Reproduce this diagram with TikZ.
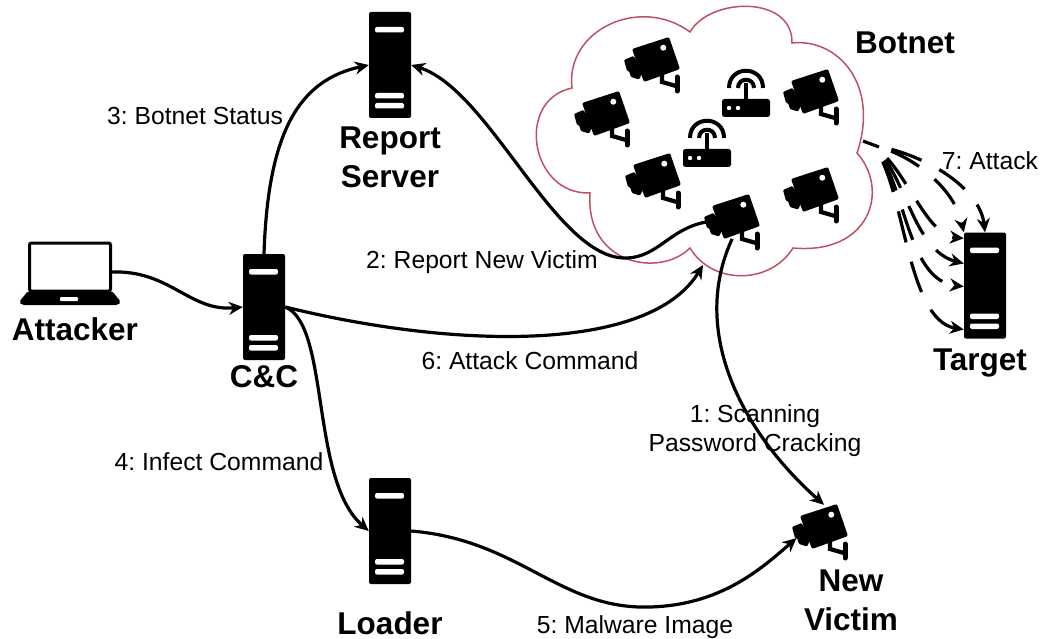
\documentclass[tikz,border=0pt]{standalone}
\usepackage{fontspec}
\setmainfont{Liberation Sans}
\usetikzlibrary{arrows.meta}
\frenchspacing
\tikzset{
	link/.style={line width=3.2pt,-{Stealth[length=14pt,width=13pt]}},
	attack/.style={link,dash pattern=on 32pt off 20pt,dash phase=32pt},
	tag/.style={inner sep=0,font=\fontsize{24.7}{29}\selectfont,align=center},
	title/.style={inner sep=0,font=\bfseries\fontsize{31.5}{39}\selectfont,align=center},
	serverbox/.style={fill=black,rounded corners=2pt,inner sep=0,minimum width=42pt,minimum height=106pt,
		path picture={\foreach \barY in {-38,28,38} \fill[white] (path picture bounding box.center) ++(-15,\barY) rectangle ++(29,5.5);}},
	camera/.pic={
		\node[circle,inner sep=0,minimum size=44pt] (-c) at (0,0) {};
		\fill[black,rounded corners=2pt] (-24,-11) -- (13,-23) -- (24,9) -- (-12,22) -- cycle;
		\fill[black,rounded corners=1pt] (-32,0) -- (-22.7,-4) -- (-12,10) -- (-17,19.5) -- (-25,17) -- (-27,11) -- (-29,11) -- cycle;
		\fill[white] (7.3,-12.3) circle (3pt);
		\draw[line width=4.2pt] (6,14) -- (6,22) -- (20,26);
		\draw[line width=5pt,line cap=round] (21,17) -- (21,31);
	},
	router/.pic={
		\fill[black,rounded corners=2.5pt] (-24,-9) rectangle (24,9);
		\fill[white] (-17,0) circle (2.2pt) (-8,0) circle (2.2pt);
		\draw[line width=4pt] (0,-9) -- (0,-25);
		\draw[line width=4pt] (-17,-20) .. controls (-17,-43) and (17,-43) .. (17,-20);
		\draw[line width=4pt] (-8,-20) .. controls (-8,-31) and (8,-31) .. (8,-20);
	},
}
\begin{document}
\begin{tikzpicture}[x=1pt,y=-1pt]
	\useasboundingbox (0,0) rectangle (1043,639);
	\draw[color={rgb,255:red,190;green,80;blue,100},line width=1.5pt] (572,88)
		.. controls (565,30) and (640,-5) .. (690,32)
		.. controls (710,-3) and (793,-5) .. (792,43)
		.. controls (838,38) and (880,85) .. (857,153)
		.. controls (890,190) and (870,255) .. (793,248)
		.. controls (770,285) and (712,285) .. (690,248)
		.. controls (660,278) and (585,265) .. (590,193)
		.. controls (530,195) and (515,100) .. cycle;

	\node[serverbox] (report) at (390,65) {};
	\node[serverbox] (cc) at (264,307) {};
	\node[serverbox] (loader) at (390,531) {};
	\node[serverbox] (target) at (985,285.5) {};
	\node[draw,line width=3pt,rounded corners=2pt,inner sep=0,minimum width=81pt,minimum height=48pt] (attacker) at (70,267) {};
	\fill[black,rounded corners=2pt] (28,291) -- (112,291) -- (121,302) -- (118,305) -- (22,305) -- (19,302) -- cycle;
	\fill[white,rounded corners=1pt] (60,297) rectangle (78,301);

	\pic (bot1) at (656,60) {camera};
	\pic (bot2) at (606,114) {camera};
	\pic (bot3) at (657,176) {camera};
	\pic (victim) at (736,217) {camera};
	\pic (bot5) at (815,92) {camera};
	\pic (bot6) at (815,190) {camera};
	\pic (newvictim) at (824,527) {camera};
	\pic (router1) at (746,108) {router};
	\pic (router2) at (707,158) {router};

	\coordinate (burst) at (872,145);
	\coordinate (burststart) at (863,141);
	\coordinate (cmdend) at (703,265);
	\draw[link] (attacker.east) ++(0,5) .. controls (170,270) and (190,312) .. (cc.west);
	\draw[link] (cc.north) .. controls (268,130) and (300,80) .. (report.west);
	\draw[link] (victim-c.190) .. controls (670,225) and (660,258) .. (625,258) .. controls (555,258) and (490,90) .. (report.east);
	\draw[link] (cc.east) .. controls (460,350) and (650,352) .. (cmdend);
	\draw[link] (cc.east) .. controls (330,325) and (310,480) .. (loader.west);
	\draw[link] (victim-c.260) .. controls (690,330) and (740,430) .. (newvictim-c.north);
	\draw[link,shorten >=8pt] (loader.east) .. controls (520,540) and (560,610) .. (650,607) .. controls (720,605) and (760,570) .. (newvictim-c.195);

	\draw[line width=3.2pt] (burststart) -- ++(16,6);
	\draw[attack] (burst) .. controls (930,155) and (980,190) .. (target.north);
	\draw[attack] (burst) .. controls (915,155) and (955,190) .. (target.north west);
	\draw[attack] (burst) .. controls (905,165) and (925,235) .. ([yshift=-6pt]target.north west);
	\draw[attack] (burst) .. controls (905,170) and (912,250) .. ([yshift=22pt]target.west);
	\draw[attack] (burst) .. controls (905,175) and (905,280) .. ([yshift=-1pt]target.west);
	\draw[attack] (burst) .. controls (905,180) and (905,320) .. ([yshift=-44pt]target.west);

	\node[title] (botnetlabel) at (905,43) {Botnet};
	\node[title] (reportlabel) at (390,157) {Report\\Server};
	\node[title] (attackerlabel) at (75,329) {Attacker};
	\node[title] (cclabel) at (264,377) {C\&C};
	\node[title] (loaderlabel) at (390,623) {Loader};
	\node[title] (targetlabel) at (980,363) {Target};
	\node[title] (newvictimlabel) at (851,600) {New\\Victim};
	\node[tag] (statuslabel) at (195,116) {3: Botnet Status};
	\node[tag] (newvictimtag) at (482,262) {2: Report New Victim};
	\node[tag] (commandlabel) at (530,361) {6: Attack Command};
	\node[tag] (infectlabel) at (219,462) {4: Infect Command};
	\node[tag] (scanlabel) at (755,431) {1: Scanning\\Password Cracking};
	\node[tag] (malwarelabel) at (635,627) {5: Malware Image};
	\node[tag] (attacklabel) at (990,161) {7: Attack};
\end{tikzpicture}
\end{document}
